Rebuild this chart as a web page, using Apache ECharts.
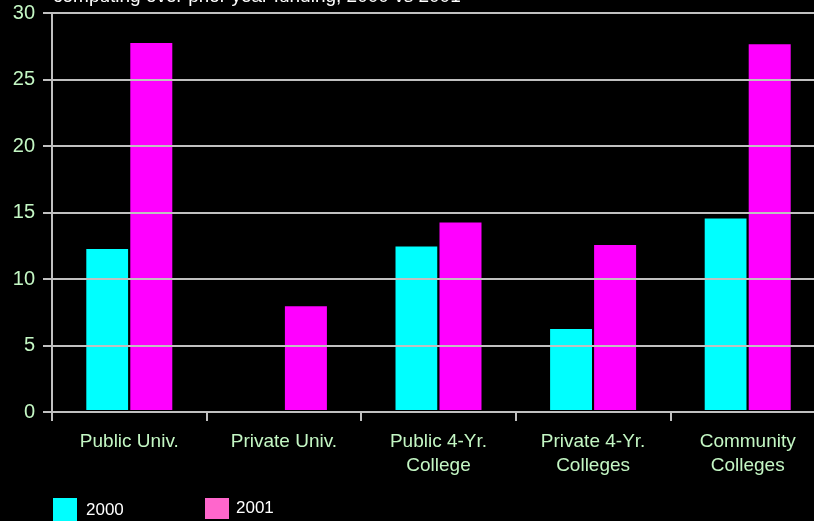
<!DOCTYPE html>
<html>
<head>
<meta charset="utf-8">
<script src="https://cdn.jsdelivr.net/npm/echarts@6/dist/echarts.min.js"></script>
<style>
  html, body { margin: 0; padding: 0; background: #000; overflow: hidden; width: 814px; height: 521px; }
  #chart { width: 825px; height: 521px; }
</style>
</head>
<body>
<div id="chart"></div>
<script>
const categories = ['Public Univ.', 'Private Univ.', 'Public 4-Yr.\nCollege', 'Private 4-Yr.\nColleges', 'Community\nColleges'];
const values2000 = [12.4, null, 12.6, 6.4, 14.7];
const values2001 = [27.9, 8.1, 14.4, 12.7, 27.8];
const yTicks = [0, 5, 10, 15, 20, 25, 30];
const titleText = 'computing over prior year funding, 2000 vs 2001';

const FONT = 'Liberation Sans, Arial, sans-serif';
const GRAY = '#c0c0c0';
const GREEN = '#c4f7c4';

const chart = echarts.init(document.getElementById('chart'), null, { renderer: 'canvas' });
chart.setOption({
  backgroundColor: '#000000',
  animation: false,
  title: {
    text: titleText,
    left: 53,
    top: -13,
    padding: 0,
    textStyle: { color: '#ffffff', fontFamily: FONT, fontSize: 19, fontWeight: 'normal' }
  },
  legend: [
    {
      left: 53, top: 498, padding: 0,
      itemWidth: 24, itemHeight: 24,
      icon: 'rect',
      data: [{ name: '2000', itemStyle: { color: '#00ffff', borderWidth: 0 } }],
      textStyle: { color: '#ffffff', fontFamily: FONT, fontSize: 17, padding: [0, 0, 0, 4] }
    },
    {
      left: 205, top: 498, padding: 0,
      itemWidth: 24, itemHeight: 21,
      icon: 'rect',
      data: [{ name: '2001', itemStyle: { color: '#ff66cc', borderWidth: 0 } }],
      textStyle: { color: '#ffffff', fontFamily: FONT, fontSize: 17, padding: [0, 0, 5, 2] }
    }
  ],
  grid: { left: 52, top: 13, bottom: 109, right: 0, containLabel: false },
  xAxis: {
    type: 'category',
    data: categories,
    z: 10,
    boundaryGap: true,
    axisLine: { show: true, lineStyle: { color: GRAY, width: 2 } },
    axisTick: { show: true, interval: 0, alignWithLabel: false, length: 9, lineStyle: { color: GRAY, width: 2 } },
    axisLabel: { interval: 0, color: GREEN, fontFamily: FONT, fontSize: 19, lineHeight: 24, margin: 18 },
    splitLine: { show: false }
  },
  yAxis: {
    type: 'value',
    min: yTicks[0],
    max: yTicks[yTicks.length - 1],
    interval: 5,
    z: 10,
    axisLine: { show: true, lineStyle: { color: GRAY, width: 2 } },
    axisTick: { show: true, length: 9, lineStyle: { color: GRAY, width: 2 } },
    axisLabel: { color: GREEN, fontFamily: FONT, fontSize: 20, margin: 17 },
    splitLine: { show: true, lineStyle: { color: GRAY, width: 2 } }
  },
  series: [
    {
      name: '2000', type: 'bar', data: values2000,
      barWidth: 46, barGap: '-4.35%',
      itemStyle: { color: '#00ffff', borderColor: '#000000', borderWidth: 2 }
    },
    {
      name: '2001', type: 'bar', data: values2001,
      barWidth: 46, barGap: '-4.35%',
      itemStyle: { color: '#ff00ff', borderColor: '#000000', borderWidth: 2 }
    }
  ]
});
</script>
</body>
</html>
